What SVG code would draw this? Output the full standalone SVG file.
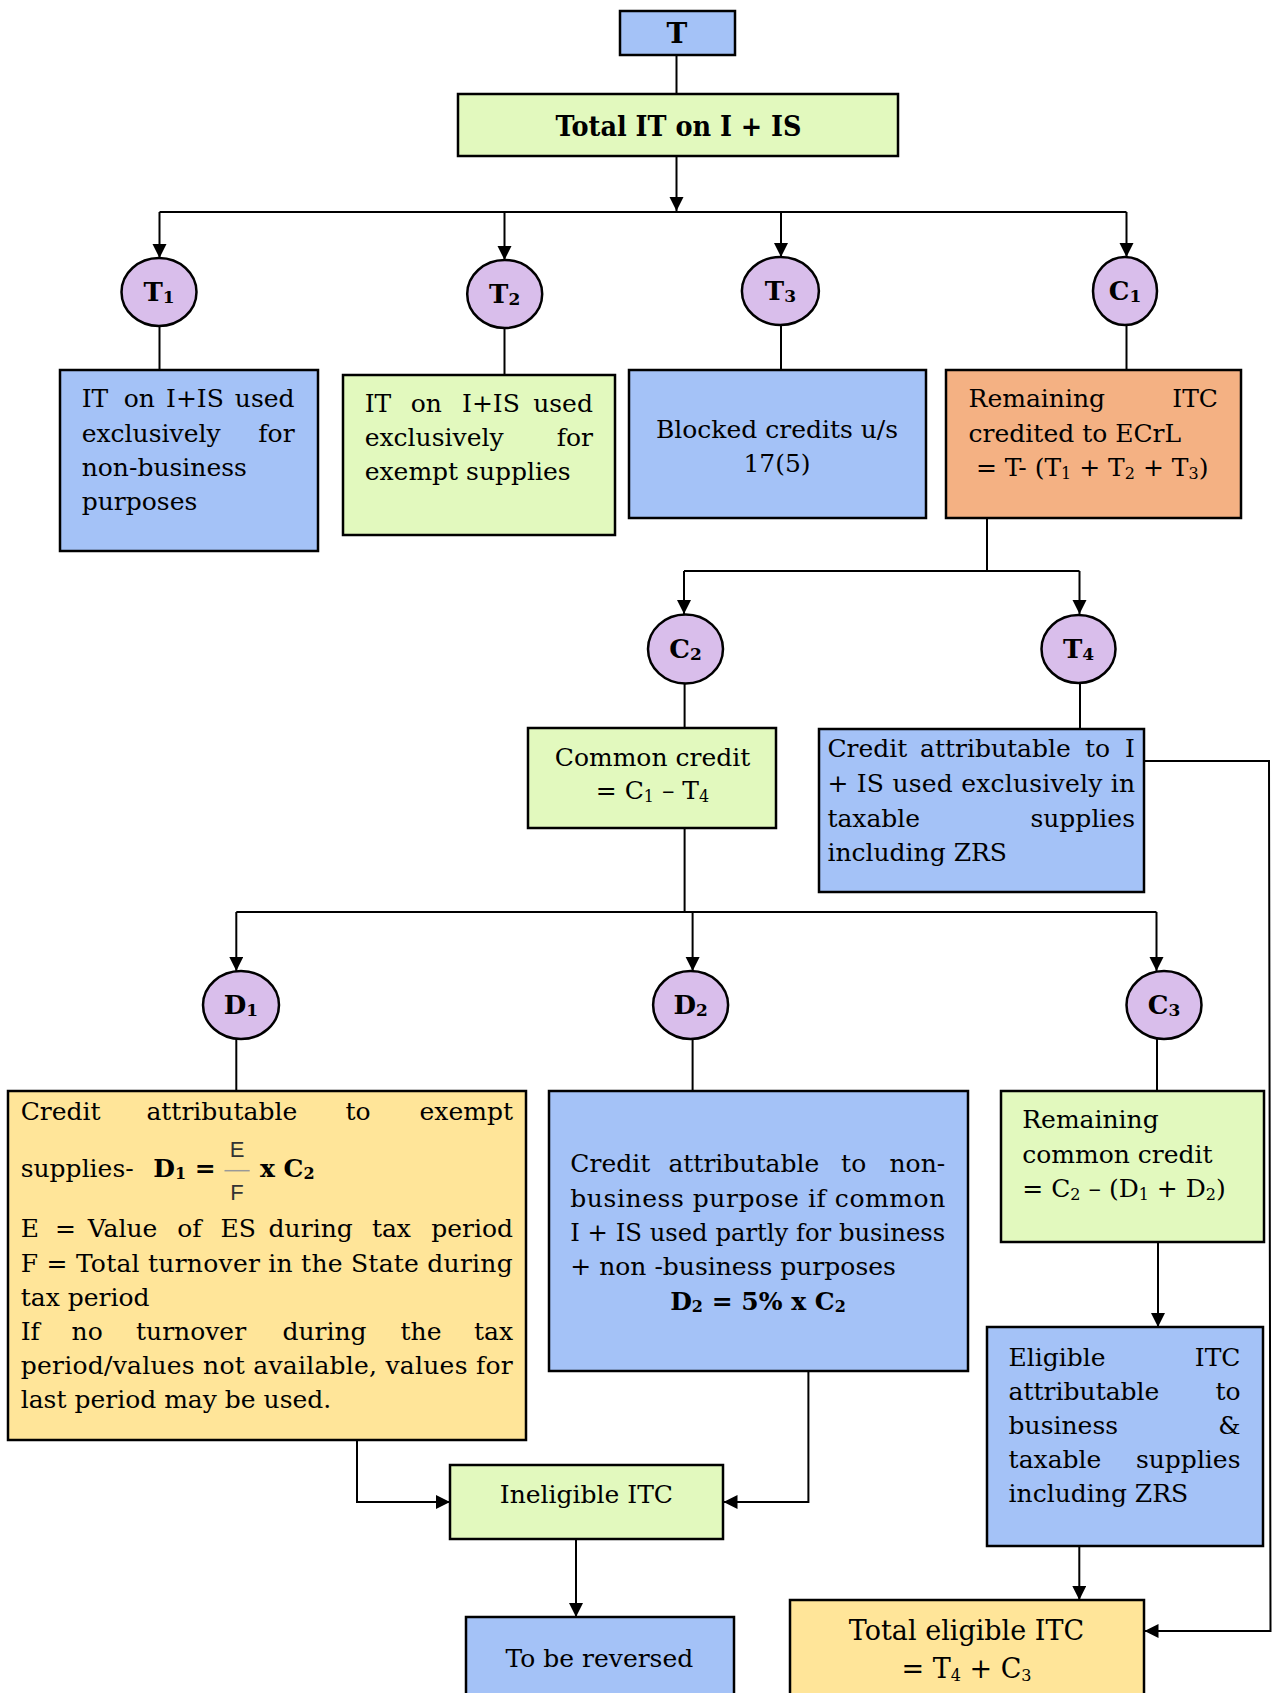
<svg xmlns="http://www.w3.org/2000/svg" width="1272" height="1693" viewBox="0 0 1272 1693">
<defs>
<marker id="ah" markerUnits="userSpaceOnUse" markerWidth="15" markerHeight="15" refX="14" refY="7" orient="auto">
<path d="M0,0 L14,7 L0,14 z" fill="#000"/>
</marker>
<style>
.box{stroke:#000;stroke-width:2.5}
.blue{fill:#A4C2F7}
.green{fill:#E2F9BE}
.orange{fill:#F4B183}
.yellow{fill:#FFE599}
.node{fill:#D9BEEB;stroke:#000;stroke-width:2.5}
.t{font-family:'DejaVu Serif','Liberation Serif',serif;font-size:25px;fill:#000}
.e{text-anchor:end}
.m{text-anchor:middle}
.b{font-weight:bold}
.s{font-size:16px}
.lbl{font-family:'DejaVu Serif','Liberation Serif',serif;font-size:26px;font-weight:bold;fill:#000;text-anchor:middle}
.sb{font-size:17px}
.sans{font-family:'Liberation Sans',Arial,sans-serif;font-size:22px;fill:#333;text-anchor:middle}
.con{fill:none;stroke:#000;stroke-width:2}
.arr{marker-end:url(#ah)}
</style>
</defs>
<rect width="1272" height="1693" fill="#fff"/>

<g id="connectors">
<path class="con" d="M676.5,55 V94"/>
<path class="con arr" d="M676.5,156 V211"/>
<path class="con" d="M159.5,212 H1126.5"/>
<path class="con arr" d="M159.5,212 V258"/>
<path class="con arr" d="M504.5,212 V260"/>
<path class="con arr" d="M781,212 V257"/>
<path class="con arr" d="M1126.5,212 V257"/>
<path class="con" d="M159.5,326 V370"/>
<path class="con" d="M504.5,328 V375"/>
<path class="con" d="M781,325 V370"/>
<path class="con" d="M1126.5,325 V370"/>
<path class="con" d="M987,518 V571"/>
<path class="con" d="M684,571 H1079.5"/>
<path class="con arr" d="M684,571 V614"/>
<path class="con arr" d="M1079.5,571 V614"/>
<path class="con" d="M684.6,683.5 V728"/>
<path class="con" d="M1080,683 V729"/>
<path class="con" d="M684.6,828 V912"/>
<path class="con" d="M236.3,912 H1156.5"/>
<path class="con arr" d="M236.3,912 V971"/>
<path class="con arr" d="M692.6,912 V971"/>
<path class="con arr" d="M1156.5,912 V971"/>
<path class="con" d="M236.3,1039 V1091"/>
<path class="con" d="M692.6,1039 V1091"/>
<path class="con" d="M1157,1039 V1091"/>
<path class="con arr" d="M357,1440 V1502 H450"/>
<path class="con arr" d="M808.4,1371 V1502 H723.5"/>
<path class="con arr" d="M576,1539 V1617"/>
<path class="con arr" d="M1158,1242 V1327"/>
<path class="con arr" d="M1079.3,1546 V1600"/>
<path class="con arr" d="M1144.3,761 H1269 L1270.5,1631 H1144.5"/>
</g>

<g id="n-T">
<rect class="box blue" x="620" y="11" width="115" height="44"/>
<text class="lbl" x="677" y="43" style="font-size:28px">T</text>
</g>

<g id="n-total">
<rect class="box green" x="458" y="94" width="440" height="62"/>
<text class="lbl" x="678.5" y="136" style="font-size:28px" textLength="246" lengthAdjust="spacingAndGlyphs">Total IT on I + IS</text>
</g>

<g id="c-T1">
<ellipse class="node" cx="159" cy="292" rx="37.5" ry="34"/>
<text class="lbl" x="159" y="301">T<tspan class="sb" dy="2">1</tspan></text>
</g>
<g id="c-T2">
<ellipse class="node" cx="504.7" cy="294" rx="37.5" ry="34"/>
<text class="lbl" x="504.7" y="303">T<tspan class="sb" dy="2">2</tspan></text>
</g>
<g id="c-T3">
<ellipse class="node" cx="780.4" cy="291" rx="38.5" ry="34"/>
<text class="lbl" x="780.4" y="300">T<tspan class="sb" dy="2">3</tspan></text>
</g>
<g id="c-C1">
<ellipse class="node" cx="1125" cy="291" rx="32" ry="34"/>
<text class="lbl" x="1125" y="300">C<tspan class="sb" dy="2">1</tspan></text>
</g>

<g id="n-T1">
<rect class="box blue" x="60" y="370" width="258" height="181"/>
<text class="t" x="81.7" y="407">IT</text>
<text class="t" x="123.7" y="407">on</text>
<text class="t" x="166" y="407">I+IS</text>
<text class="t e" x="294.6" y="407">used</text>
<text class="t" x="81.7" y="441.5">exclusively</text>
<text class="t e" x="294.6" y="441.5">for</text>
<text class="t" x="81.7" y="476">non-business</text>
<text class="t" x="81.7" y="510">purposes</text>
</g>

<g id="n-T2">
<rect class="box green" x="343" y="375" width="272" height="160"/>
<text class="t" x="364.7" y="412">IT</text>
<text class="t" x="410.7" y="412">on</text>
<text class="t" x="462" y="412">I+IS</text>
<text class="t e" x="592.9" y="412">used</text>
<text class="t" x="364.7" y="446">exclusively</text>
<text class="t e" x="592.9" y="446">for</text>
<text class="t" x="364.7" y="480">exempt supplies</text>
</g>

<g id="n-T3">
<rect class="box blue" x="629" y="370" width="297" height="148"/>
<text class="t m" x="777" y="438">Blocked credits u/s</text>
<text class="t m" x="777" y="472">17(5)</text>
</g>

<g id="n-C1">
<rect class="box orange" x="946" y="370" width="295" height="148"/>
<text class="t" x="968.6" y="407">Remaining</text>
<text class="t e" x="1218" y="407">ITC</text>
<text class="t" x="968.6" y="441.5">credited to ECrL</text>
<text class="t" x="975.9" y="476">= T- (T<tspan class="s" dy="3">1</tspan><tspan dy="-3"> + T</tspan><tspan class="s" dy="3">2</tspan><tspan dy="-3"> + T</tspan><tspan class="s" dy="3">3</tspan><tspan dy="-3">)</tspan></text>
</g>

<g id="c-C2">
<ellipse class="node" cx="685.5" cy="649" rx="37.5" ry="34.5"/>
<text class="lbl" x="685.5" y="658">C<tspan class="sb" dy="2">2</tspan></text>
</g>
<g id="c-T4">
<ellipse class="node" cx="1078.5" cy="649" rx="37" ry="34"/>
<text class="lbl" x="1078.5" y="658">T<tspan class="sb" dy="2">4</tspan></text>
</g>

<g id="n-C2">
<rect class="box green" x="528" y="728" width="248" height="100"/>
<text class="t m" x="652.5" y="765.5">Common credit</text>
<text class="t m" x="652.5" y="799">= C<tspan class="s" dy="3">1</tspan><tspan dy="-3"> – T</tspan><tspan class="s" dy="3">4</tspan></text>
</g>

<g id="n-T4">
<rect class="box blue" x="819" y="729" width="325" height="163"/>
<text class="t" x="827.4" y="757">Credit</text>
<text class="t" x="920" y="757">attributable</text>
<text class="t" x="1085" y="757">to</text>
<text class="t e" x="1135" y="757">I</text>
<text class="t" x="827.4" y="792" textLength="307.6" lengthAdjust="spacing">+ IS used exclusively in</text>
<text class="t" x="827.4" y="826.5">taxable</text>
<text class="t e" x="1135" y="826.5">supplies</text>
<text class="t" x="827.4" y="861">including ZRS</text>
</g>

<g id="c-D1">
<ellipse class="node" cx="241" cy="1005" rx="38" ry="34"/>
<text class="lbl" x="241" y="1014">D<tspan class="sb" dy="2">1</tspan></text>
</g>
<g id="c-D2">
<ellipse class="node" cx="690.6" cy="1005" rx="37.5" ry="34"/>
<text class="lbl" x="690.6" y="1014">D<tspan class="sb" dy="2">2</tspan></text>
</g>
<g id="c-C3">
<ellipse class="node" cx="1164" cy="1005" rx="37.5" ry="34"/>
<text class="lbl" x="1164" y="1014">C<tspan class="sb" dy="2">3</tspan></text>
</g>

<g id="n-D1">
<rect class="box yellow" x="8" y="1091" width="518" height="349"/>
<text class="t" x="20.7" y="1120">Credit</text>
<text class="t" x="146.4" y="1120">attributable</text>
<text class="t" x="345.4" y="1120">to</text>
<text class="t e" x="513" y="1120">exempt</text>
<text class="t" x="20.7" y="1176.7">supplies-</text>
<text class="t b" x="153.2" y="1176.7">D<tspan class="s" dy="2">1</tspan><tspan dy="-2"> =</tspan></text>
<text class="sans" x="237" y="1157">E</text>
<line x1="224.5" y1="1170.7" x2="249.7" y2="1170.7" stroke="#999" stroke-width="1.5"/>
<text class="sans" x="237" y="1200">F</text>
<text class="t b" x="260" y="1176.7">x C<tspan class="s" dy="2">2</tspan></text>
<text class="t" x="20.7" y="1236.7">E</text>
<text class="t" x="55.1" y="1236.7">=</text>
<text class="t" x="87.8" y="1236.7">Value</text>
<text class="t" x="177.3" y="1236.7">of</text>
<text class="t" x="220.4" y="1236.7">ES</text>
<text class="t" x="268.6" y="1236.7">during</text>
<text class="t" x="371.9" y="1236.7">tax</text>
<text class="t e" x="513" y="1236.7">period</text>
<text class="t" x="20.7" y="1271.7" textLength="492" lengthAdjust="spacing">F = Total turnover in the State during</text>
<text class="t" x="20.7" y="1306">tax period</text>
<text class="t" x="20.7" y="1340">If</text>
<text class="t" x="71.6" y="1340">no</text>
<text class="t" x="136" y="1340">turnover</text>
<text class="t" x="282.4" y="1340">during</text>
<text class="t" x="400.5" y="1340">the</text>
<text class="t e" x="513" y="1340">tax</text>
<text class="t" x="20.7" y="1374" textLength="492" lengthAdjust="spacing">period/values not available, values for</text>
<text class="t" x="20.7" y="1408.3">last period may be used.</text>
</g>

<g id="n-D2">
<rect class="box blue" x="549" y="1091" width="419" height="280"/>
<text class="t" x="570.3" y="1171.7">Credit</text>
<text class="t" x="668.4" y="1171.7">attributable</text>
<text class="t" x="841.1" y="1171.7">to</text>
<text class="t e" x="945.2" y="1171.7">non-</text>
<text class="t" x="570.3" y="1206.5" textLength="375" lengthAdjust="spacing">business purpose if common</text>
<text class="t" x="570.3" y="1241" textLength="375" lengthAdjust="spacingAndGlyphs">I + IS used partly for business</text>
<text class="t" x="570.3" y="1275">+ non -business purposes</text>
<text class="t b m" x="758" y="1310">D<tspan class="s" dy="2">2</tspan><tspan dy="-2"> = 5% x C</tspan><tspan class="s" dy="2">2</tspan></text>
</g>

<g id="n-C3">
<rect class="box green" x="1001" y="1091" width="263" height="151"/>
<text class="t" x="1022.3" y="1128.3">Remaining</text>
<text class="t" x="1022.3" y="1163">common credit</text>
<text class="t" x="1022.3" y="1196.7">= C<tspan class="s" dy="3">2</tspan><tspan dy="-3"> – (D</tspan><tspan class="s" dy="3">1</tspan><tspan dy="-3"> + D</tspan><tspan class="s" dy="3">2</tspan><tspan dy="-3">)</tspan></text>
</g>

<g id="n-eligible">
<rect class="box blue" x="987" y="1327" width="276" height="219"/>
<text class="t" x="1008.6" y="1366">Eligible</text>
<text class="t e" x="1240.5" y="1366">ITC</text>
<text class="t" x="1008.6" y="1400">attributable</text>
<text class="t e" x="1240.5" y="1400">to</text>
<text class="t" x="1008.6" y="1434">business</text>
<text class="t e" x="1240.5" y="1434">&amp;</text>
<text class="t" x="1008.6" y="1468">taxable</text>
<text class="t e" x="1240.5" y="1468">supplies</text>
<text class="t" x="1008.6" y="1502">including ZRS</text>
</g>

<g id="n-ineligible">
<rect class="box green" x="450" y="1465" width="273" height="74"/>
<text class="t m" x="586.4" y="1503">Ineligible ITC</text>
</g>

<g id="n-reversed">
<rect class="box blue" x="466" y="1617" width="268" height="90"/>
<text class="t m" x="599.4" y="1666.7">To be reversed</text>
</g>

<g id="n-total-eligible">
<rect class="box yellow" x="790" y="1600" width="354" height="110"/>
<text class="t m" x="966.5" y="1640" style="font-size:27px">Total eligible ITC</text>
<text class="t m" x="966.5" y="1678" style="font-size:27px">= T<tspan class="s" dy="3">4</tspan><tspan dy="-3"> + C</tspan><tspan class="s" dy="3">3</tspan></text>
</g>
</svg>
